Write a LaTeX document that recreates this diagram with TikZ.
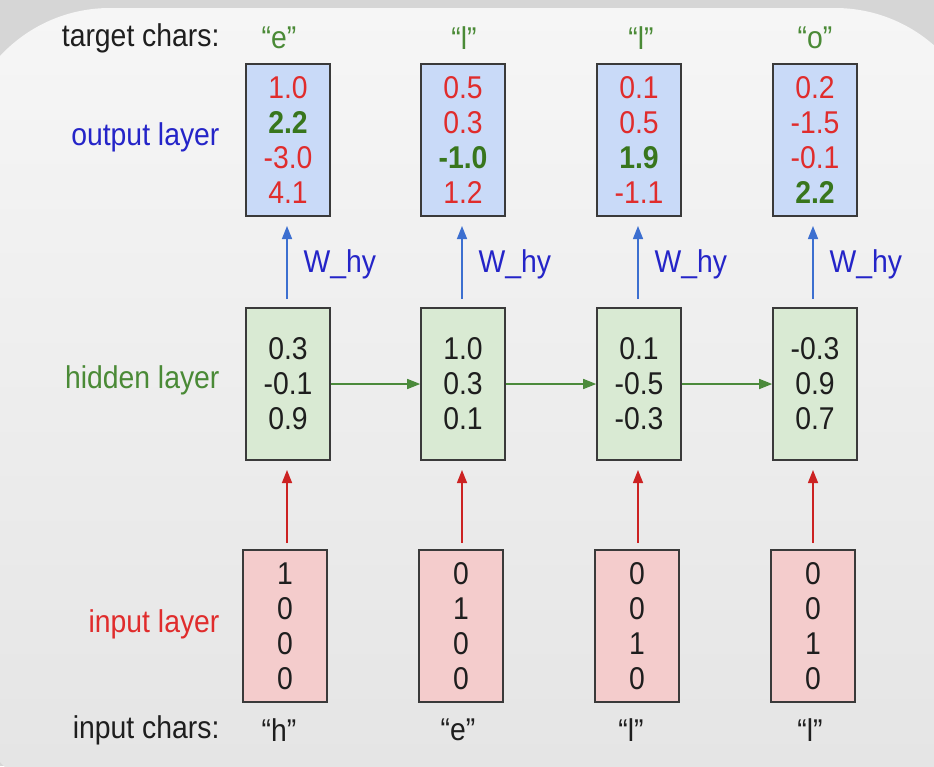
\documentclass[tikz,border=0pt]{standalone}
\usepackage{fontspec}
\setmainfont{Liberation Sans}[FakeStretch=0.9]
\usetikzlibrary{arrows.meta}
\definecolor{bgout}{HTML}{D6D6D6}
\definecolor{paneltop}{HTML}{F6F6F6}
\definecolor{panelbot}{HTML}{E4E4E4}
\definecolor{txt}{HTML}{1E1E1E}
\definecolor{lblue}{HTML}{2424C8}
\definecolor{ablue}{HTML}{3C6FD0}
\definecolor{lred}{HTML}{E02C2C}
\definecolor{ared}{HTML}{CC2222}
\definecolor{dgreen}{HTML}{38761D}
\definecolor{lgreen}{HTML}{4A8A36}
\definecolor{agreen}{HTML}{4B8A3B}
\definecolor{fblue}{HTML}{C9DAF8}
\definecolor{fgreen}{HTML}{D9EAD3}
\definecolor{fred}{HTML}{F4CCCC}
\definecolor{bord}{HTML}{3A3A3A}
\tikzset{
  vbox/.style={draw=bord, line width=1.6pt, minimum width=84pt, minimum height=152pt,
    inner sep=0pt, align=center, font=\fontsize{31.5}{35}\selectfont},
  outbox/.style={vbox, fill=fblue, text=lred},
  hidbox/.style={vbox, fill=fgreen, text=txt},
  inbox/.style={vbox, fill=fred, text=txt},
  lbl/.style={anchor=east, font=\fontsize{31.5}{35}\selectfont},
  chr/.style={font=\fontsize{31.5}{35}\selectfont},
  wlbl/.style={anchor=west, text=lblue, font=\fontsize{31.5}{35}\selectfont},
  uparrow/.style={line width=1.5pt, -{Triangle[length=13pt,width=10pt]}},
  rarrow/.style={line width=1.5pt, draw=agreen, -{Triangle[length=13pt,width=10pt]}}
}
\begin{document}
\begin{tikzpicture}[x=1pt,y=-1pt]
\useasboundingbox (0,0) rectangle (934,766);
\fill[bgout] (0,0) rectangle (934,766);
\shade[top color=paneltop, bottom color=panelbot, rounded corners=150pt]
  (-40,8) rectangle (985,810);
% left labels
\node[lbl, text=txt] (tc) at (223,38) {target chars:};
\node[lbl, text=lblue] (ol) at (223,137) {output layer};
\node[lbl, text=lgreen] (hl) at (223,380) {hidden layer};
\node[lbl, text=lred] (il) at (223,624) {input layer};
\node[lbl, text=txt] (ic) at (223,730) {input chars:};
% target chars
\node[chr, text=lgreen] (t1) at (279,38) {“e”};
\node[chr, text=lgreen] (t2) at (464,38) {“l”};
\node[chr, text=lgreen] (t3) at (641,38) {“l”};
\node[chr, text=lgreen] (t4) at (815,38) {“o”};
% output boxes
\node[outbox] (o1) at (288,140) {1.0\\\textcolor{dgreen}{\textbf{2.2}}\\-3.0\\4.1};
\node[outbox] (o2) at (463,140) {0.5\\0.3\\\textcolor{dgreen}{\textbf{-1.0}}\\1.2};
\node[outbox] (o3) at (639,140) {0.1\\0.5\\\textcolor{dgreen}{\textbf{1.9}}\\-1.1};
\node[outbox] (o4) at (815,140) {0.2\\-1.5\\-0.1\\\textcolor{dgreen}{\textbf{2.2}}};
% hidden boxes
\node[hidbox] (h1) at (288,384) {0.3\\-0.1\\0.9};
\node[hidbox] (h2) at (463,384) {1.0\\0.3\\0.1};
\node[hidbox] (h3) at (639,384) {0.1\\-0.5\\-0.3};
\node[hidbox] (h4) at (815,384) {-0.3\\0.9\\0.7};
% input boxes
\node[inbox] (i1) at (285,626) {1\\0\\0\\0};
\node[inbox] (i2) at (461,626) {0\\1\\0\\0};
\node[inbox] (i3) at (637,626) {0\\0\\1\\0};
\node[inbox] (i4) at (813,626) {0\\0\\1\\0};
% input chars
\node[chr, text=txt] (c1) at (279,730) {“h”};
\node[chr, text=txt] (c2) at (458,730) {“e”};
\node[chr, text=txt] (c3) at (631,730) {“l”};
\node[chr, text=txt] (c4) at (810,730) {“l”};
% W_hy arrows
\foreach \k/\x in {1/287,2/462,3/638,4/813}{
  \coordinate (wa\k) at (\x,299);
  \coordinate (wb\k) at (\x,226);
  \draw[uparrow, draw=ablue, fill=ablue] (wa\k) -- (wb\k);
  \node[wlbl] (w\k) at (\x+13,264) {W\_hy};
  \coordinate (ra\k) at (\x,543);
  \coordinate (rb\k) at (\x,470);
  \draw[uparrow, draw=ared, fill=ared] (ra\k) -- (rb\k);
}
% recurrent arrows
\draw[rarrow] (h1.east) -- (h2.west);
\draw[rarrow] (h2.east) -- (h3.west);
\draw[rarrow] (h3.east) -- (h4.west);
\end{tikzpicture}
\end{document}
